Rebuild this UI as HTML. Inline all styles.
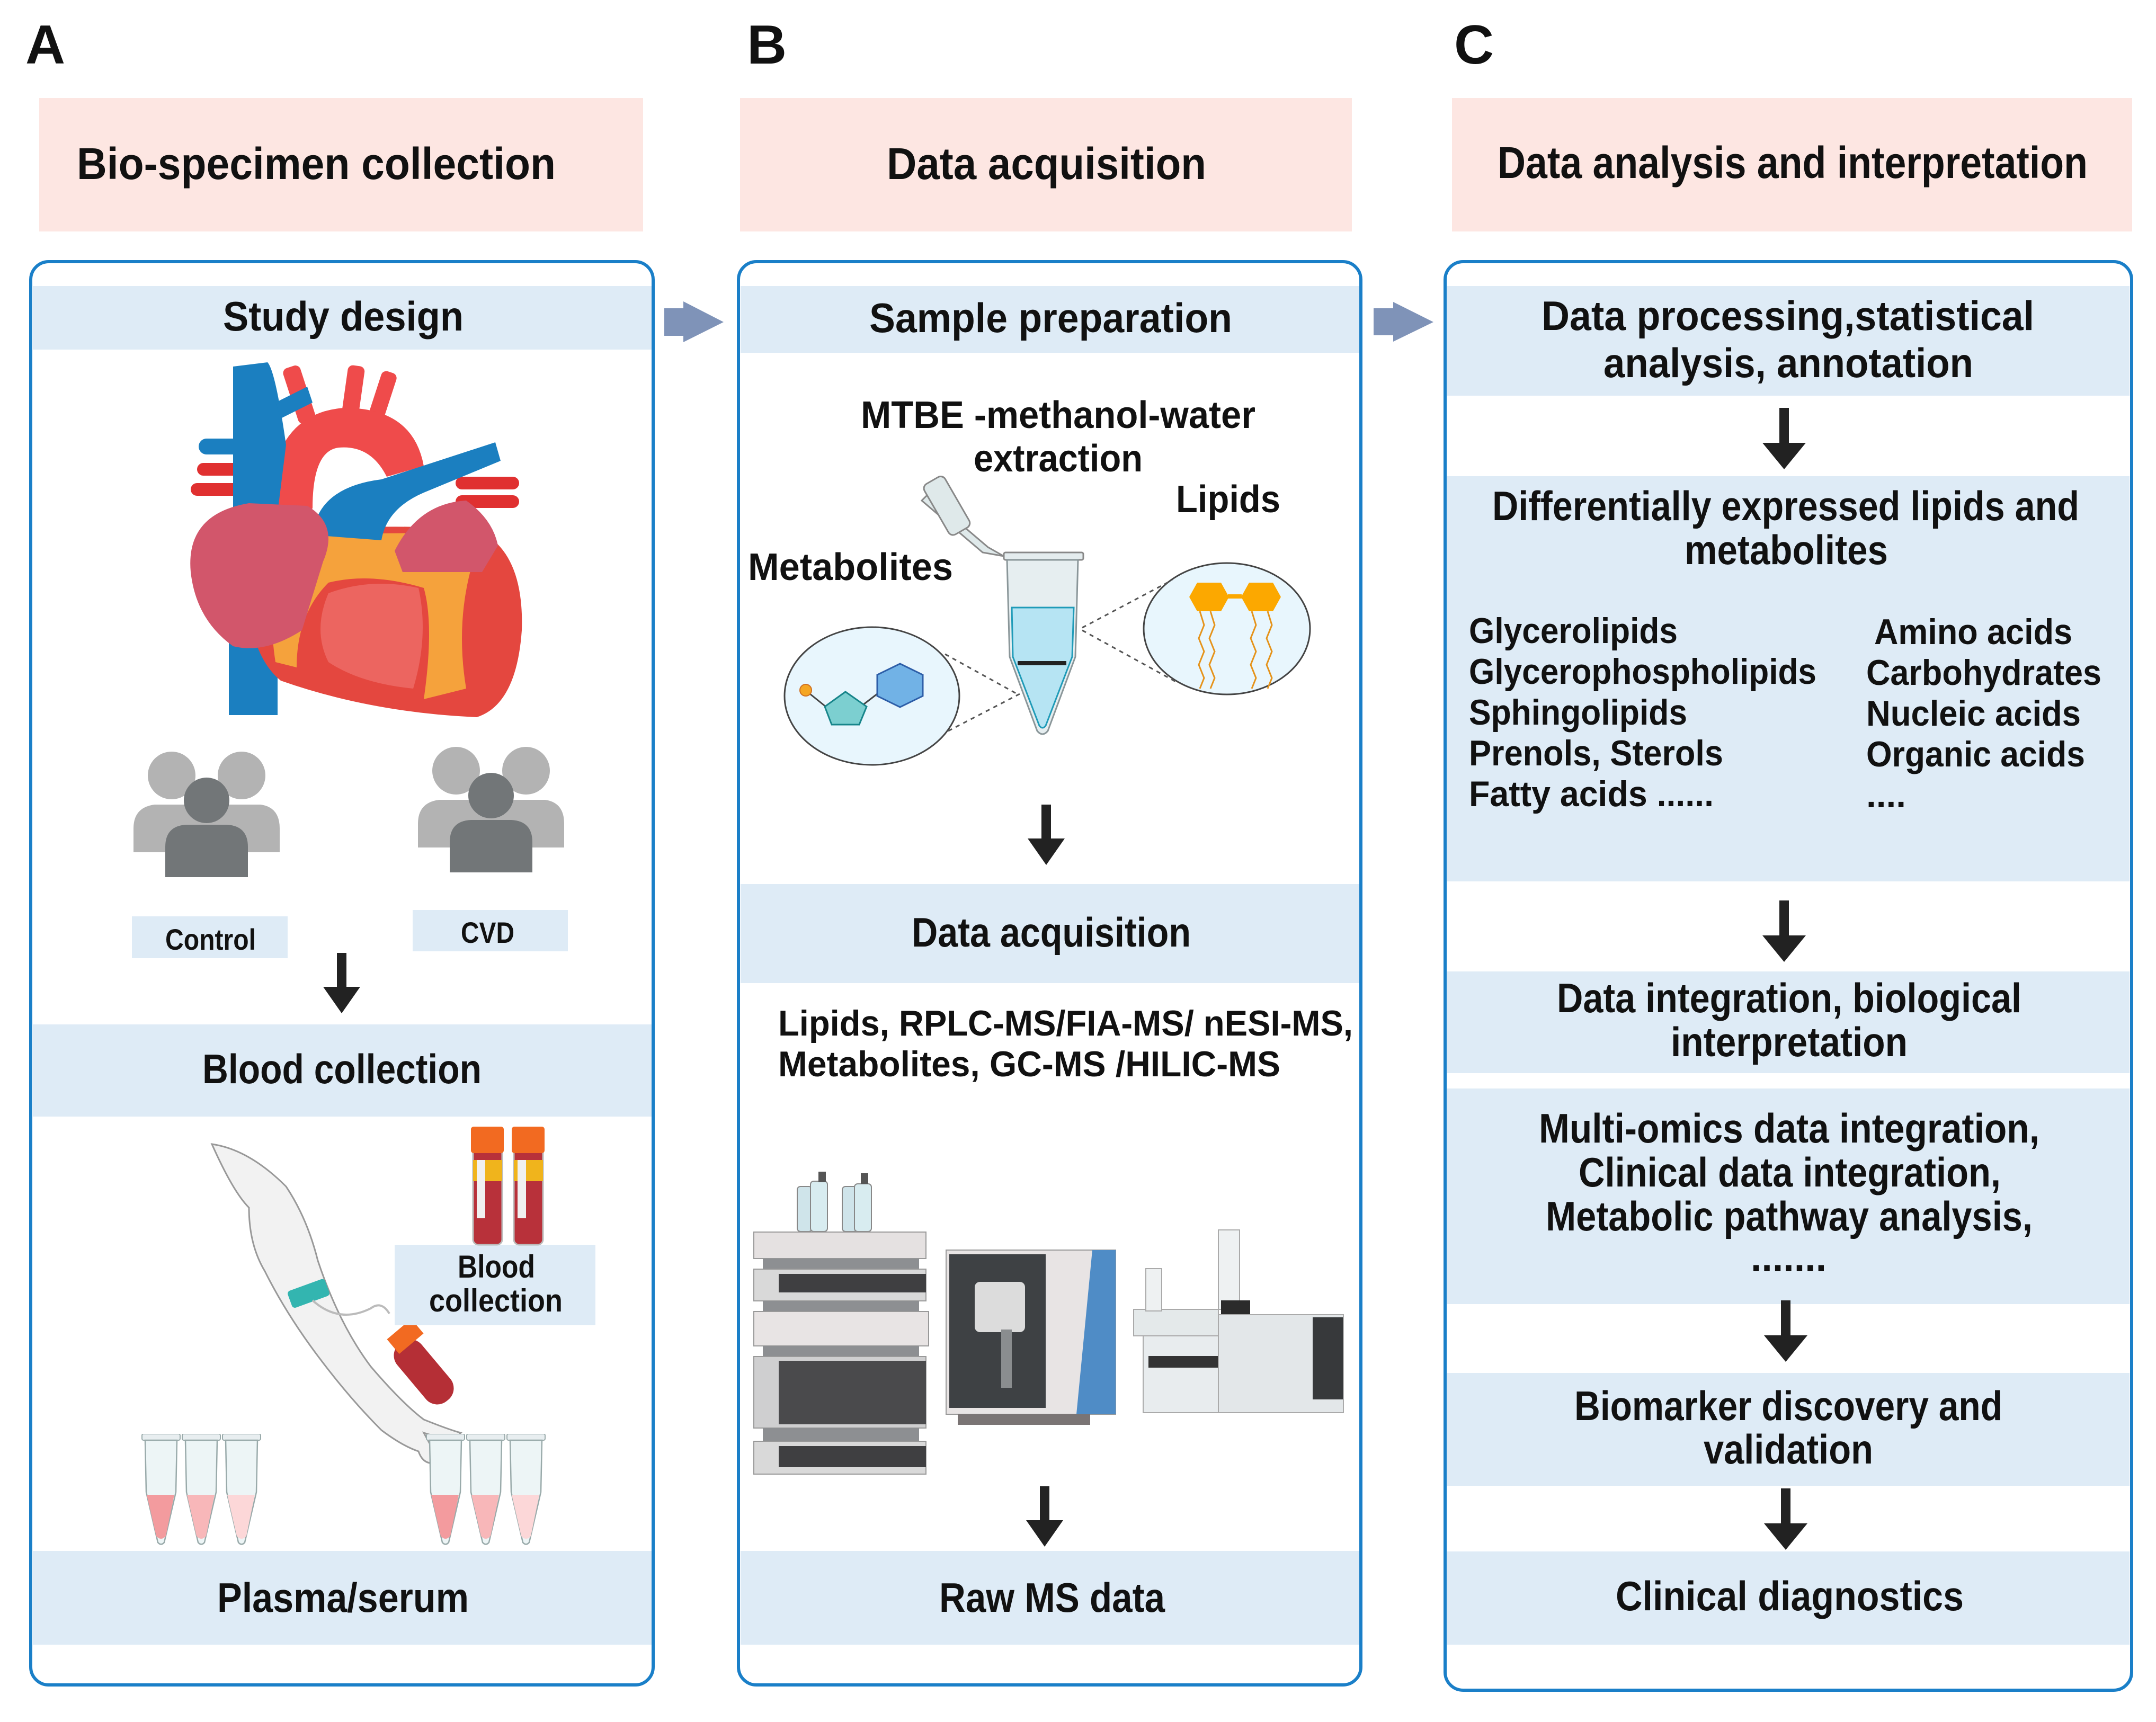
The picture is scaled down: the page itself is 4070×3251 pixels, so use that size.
<!DOCTYPE html>
<html><head><meta charset="utf-8">
<style>
html,body{margin:0;padding:0;background:#fff;}
svg{display:block;}
text{font-family:"Liberation Sans",sans-serif;font-weight:bold;fill:#111;}
</style></head><body>
<svg width="4070" height="3251" viewBox="0 0 4070 3251" xmlns="http://www.w3.org/2000/svg">
<defs>
<symbol id="epp" viewBox="0 0 76 212" width="76" height="212">
 <rect x="2" y="0" width="72" height="12" rx="3" fill="#e8eef0" stroke="#9aa" stroke-width="2"/>
 <path d="M8 12 L68 12 L66 110 L44 205 Q38 212 32 205 L10 110 Z" fill="#edf5f6" stroke="#9aa" stroke-width="2.5"/>
</symbol>
<symbol id="people" viewBox="0 0 276 237" width="276" height="237">
 <circle cx="72" cy="45" r="45" fill="#b3b3b3"/>
 <circle cx="204" cy="45" r="45" fill="#b3b3b3"/>
 <path d="M0 190 L0 145 Q0 105 40 100 L110 100 Q140 105 140 145 L140 190 Z" fill="#b3b3b3"/>
 <path d="M136 190 L136 145 Q136 105 176 100 L240 100 Q276 105 276 145 L276 190 Z" fill="#b3b3b3"/>
 <circle cx="138" cy="92" r="43" fill="#727678"/>
 <path d="M60 237 L60 180 Q60 140 100 138 L176 138 Q216 140 216 180 L216 237 Z" fill="#727678"/>
</symbol>
</defs>

<text x="48" y="120" font-size="104">A</text>
<text x="1410" y="120" font-size="104">B</text>
<text x="2745" y="120" font-size="104">C</text>

<rect x="74" y="185" width="1140" height="252" fill="#fde6e2"/>
<rect x="1397" y="185" width="1155" height="252" fill="#fde6e2"/>
<rect x="2741" y="185" width="1284" height="252" fill="#fde6e2"/>
<text x="145" y="338" font-size="84" textLength="904" lengthAdjust="spacingAndGlyphs">Bio-specimen collection</text>
<text x="1674" y="338" font-size="84" textLength="603" lengthAdjust="spacingAndGlyphs">Data acquisition</text>
<text x="2827" y="336" font-size="84" textLength="1114" lengthAdjust="spacingAndGlyphs">Data analysis and interpretation</text>

<rect x="58" y="494" width="1175" height="2687" rx="34" fill="#fff" stroke="#1a7fc8" stroke-width="6"/>
<rect x="1394" y="494" width="1175" height="2687" rx="34" fill="#fff" stroke="#1a7fc8" stroke-width="6"/>
<rect x="2728" y="494" width="1296" height="2697" rx="34" fill="#fff" stroke="#1a7fc8" stroke-width="6"/>

<polygon points="1254,582 1290,582 1290,569 1366,608 1290,646 1290,634 1254,634" fill="#7f93b8"/>
<polygon points="2593,582 2630,582 2630,570 2706,608 2630,645 2630,633 2593,633" fill="#7f93b8"/>

<g fill="#deebf6">
<rect x="62" y="540" width="1168" height="120"/>
<rect x="62" y="1934" width="1168" height="174"/>
<rect x="62" y="2928" width="1168" height="177"/>
<rect x="1398" y="540" width="1168" height="126"/>
<rect x="1398" y="1669" width="1168" height="187"/>
<rect x="1398" y="2928" width="1168" height="177"/>
<rect x="2732" y="540" width="1288" height="207"/>
<rect x="2732" y="899" width="1288" height="765"/>
<rect x="2732" y="1834" width="1288" height="192"/>
<rect x="2732" y="2055" width="1288" height="407"/>
<rect x="2732" y="2592" width="1288" height="213"/>
<rect x="2732" y="2929" width="1288" height="176"/>
<rect x="249" y="1730" width="294" height="79"/>
<rect x="779" y="1718" width="293" height="78"/>
</g>

<text x="421" y="624" font-size="78" textLength="454" lengthAdjust="spacingAndGlyphs">Study design</text>
<text x="382" y="2045" font-size="78" textLength="527" lengthAdjust="spacingAndGlyphs">Blood collection</text>
<text x="410" y="3043" font-size="78" textLength="475" lengthAdjust="spacingAndGlyphs">Plasma/serum</text>
<text x="312" y="1793" font-size="56" textLength="171" lengthAdjust="spacingAndGlyphs">Control</text>
<text x="870" y="1780" font-size="56" textLength="101" lengthAdjust="spacingAndGlyphs">CVD</text>

<text x="1641" y="627" font-size="78" textLength="685" lengthAdjust="spacingAndGlyphs">Sample preparation</text>
<text x="1625" y="808" font-size="72" textLength="745" lengthAdjust="spacingAndGlyphs">MTBE -methanol-water</text>
<text x="1838" y="890" font-size="72" textLength="319" lengthAdjust="spacingAndGlyphs">extraction</text>
<text x="2220" y="967" font-size="72" textLength="197" lengthAdjust="spacingAndGlyphs">Lipids</text>
<text x="1412" y="1095" font-size="72" textLength="387" lengthAdjust="spacingAndGlyphs">Metabolites</text>
<text x="1721" y="1787" font-size="78" textLength="527" lengthAdjust="spacingAndGlyphs">Data acquisition</text>
<text x="1469" y="1955" font-size="68" textLength="1085" lengthAdjust="spacingAndGlyphs">Lipids, RPLC-MS/FIA-MS/ nESI-MS,</text>
<text x="1469" y="2032" font-size="68" textLength="948" lengthAdjust="spacingAndGlyphs">Metabolites, GC-MS /HILIC-MS</text>
<text x="1773" y="3043" font-size="78" textLength="426" lengthAdjust="spacingAndGlyphs">Raw MS data</text>

<g font-size="78">
<text x="2910" y="623" textLength="930" lengthAdjust="spacingAndGlyphs">Data processing,statistical</text>
<text x="3027" y="712" textLength="698" lengthAdjust="spacingAndGlyphs">analysis, annotation</text>
<text x="2817" y="982" textLength="1108" lengthAdjust="spacingAndGlyphs">Differentially expressed lipids and</text>
<text x="3180" y="1065" textLength="384" lengthAdjust="spacingAndGlyphs">metabolites</text>
<text x="2939" y="1911" textLength="877" lengthAdjust="spacingAndGlyphs">Data integration, biological</text>
<text x="3154" y="1994" textLength="447" lengthAdjust="spacingAndGlyphs">interpretation</text>
<text x="2905" y="2157" textLength="945" lengthAdjust="spacingAndGlyphs">Multi-omics data integration,</text>
<text x="2980" y="2240" textLength="797" lengthAdjust="spacingAndGlyphs">Clinical data integration,</text>
<text x="2918" y="2323" textLength="919" lengthAdjust="spacingAndGlyphs">Metabolic pathway analysis,</text>
<text x="3305" y="2400" textLength="143" lengthAdjust="spacingAndGlyphs">.......</text>
<text x="2972" y="2681" textLength="808" lengthAdjust="spacingAndGlyphs">Biomarker discovery and</text>
<text x="3216" y="2763" textLength="320" lengthAdjust="spacingAndGlyphs">validation</text>
<text x="3050" y="3040" textLength="657" lengthAdjust="spacingAndGlyphs">Clinical  diagnostics</text>
</g>
<g font-size="68">
<text x="2773" y="1214" textLength="394" lengthAdjust="spacingAndGlyphs">Glycerolipids</text>
<text x="2773" y="1291" textLength="656" lengthAdjust="spacingAndGlyphs">Glycerophospholipids</text>
<text x="2773" y="1368" textLength="412" lengthAdjust="spacingAndGlyphs">Sphingolipids</text>
<text x="2773" y="1445" textLength="480" lengthAdjust="spacingAndGlyphs">Prenols, Sterols</text>
<text x="2773" y="1522" textLength="462" lengthAdjust="spacingAndGlyphs">Fatty acids ......</text>
<text x="3538" y="1216" textLength="374" lengthAdjust="spacingAndGlyphs">Amino acids</text>
<text x="3523" y="1293" textLength="444" lengthAdjust="spacingAndGlyphs">Carbohydrates</text>
<text x="3523" y="1370" textLength="405" lengthAdjust="spacingAndGlyphs">Nucleic acids</text>
<text x="3523" y="1447" textLength="413" lengthAdjust="spacingAndGlyphs">Organic acids</text>
<text x="3523" y="1524" textLength="75" lengthAdjust="spacingAndGlyphs">....</text>
</g>

<g fill="#222">
<path d="M636 1799 h18 v64 h26 l-35 50 l-35 -50 h26z"/>
<path d="M1966 1519 h18 v64 h26 l-35 50 l-35 -50 h26z"/>
<path d="M1963 2806 h18 v64 h26 l-35 50 l-35 -50 h26z"/>
<path d="M3359 770 h18 v66 h32 l-41 50 l-41 -50 h32z"/>
<path d="M3359 1700 h18 v66 h32 l-41 50 l-41 -50 h32z"/>
<path d="M3362 2455 h18 v66 h32 l-41 50 l-41 -50 h32z"/>
<path d="M3362 2810 h18 v66 h32 l-41 50 l-41 -50 h32z"/>
</g>

<!-- heart -->
<g>
<rect x="372" y="874" width="100" height="24" rx="12" fill="#e03030"/>
<rect x="360" y="912" width="110" height="24" rx="12" fill="#e03030"/>
<rect x="375" y="828" width="90" height="30" rx="15" fill="#1b7fc0"/>
<rect x="860" y="900" width="120" height="24" rx="12" fill="#e03030"/>
<rect x="860" y="935" width="120" height="24" rx="12" fill="#e03030"/>
<rect x="548" y="690" width="34" height="110" rx="10" fill="#ef4b4b" transform="rotate(-18 565 745)"/>
<rect x="650" y="690" width="32" height="110" rx="10" fill="#ef4b4b" transform="rotate(8 666 745)"/>
<rect x="705" y="700" width="30" height="110" rx="10" fill="#ef4b4b" transform="rotate(18 720 755)"/>
<path d="M505 1000 Q500 780 650 770 Q780 770 800 880 L730 900 Q700 840 640 845 Q590 850 590 960 Z" fill="#ef4b4b"/>
<path d="M440 692 L505 684 Q520 700 540 840 L520 1000 L440 1000 Z" fill="#1b7fc0"/>
<path d="M520 760 L580 730 L590 760 L530 790 Z" fill="#1b7fc0"/>
<rect x="432" y="1200" width="92" height="150" fill="#1b7fc0"/>
<path d="M470 1010 Q700 985 900 1000 Q990 1040 985 1190 Q975 1330 900 1354 Q700 1345 530 1285 Q450 1220 470 1010 Z" fill="#e4473f"/>
<path d="M540 1020 Q700 1000 890 1010 L890 1070 Q860 1180 880 1300 L800 1320 Q820 1180 800 1110 Q700 1080 620 1100 Q560 1160 560 1260 L520 1250 Q500 1120 540 1020Z" fill="#f5a23c"/>
<path d="M620 1120 Q700 1090 790 1110 Q810 1200 780 1300 Q680 1290 620 1250 Q590 1190 620 1120Z" fill="#ec6560"/>
<path d="M590 1010 Q600 920 720 905 L935 835 L945 870 L800 930 Q730 960 720 1020 Z" fill="#1b7fc0"/>
<path d="M360 1080 Q350 970 470 950 L580 955 Q640 990 610 1060 L570 1190 Q500 1235 440 1220 Q370 1170 360 1080Z" fill="#d2566b"/>
<path d="M745 1040 Q790 950 880 945 Q930 980 940 1030 L910 1080 L760 1080Z" fill="#d2566b"/>
</g>

<use href="#people" x="252" y="1419"/>
<use href="#people" x="789" y="1410"/>

<!-- arm -->
<path d="M400 2160 Q470 2170 540 2240 Q580 2300 600 2380 Q640 2500 700 2580 Q760 2650 800 2680 Q850 2700 870 2705 L860 2715 Q830 2715 800 2705 L830 2760 Q800 2770 790 2740 Q760 2730 720 2700 Q660 2640 600 2560 Q540 2480 500 2400 Q470 2350 470 2280 Q440 2250 400 2160Z" fill="#f2f2f2" stroke="#999" stroke-width="3"/>
<rect x="545" y="2425" width="75" height="34" rx="6" fill="#33b5b0" transform="rotate(-20 582 2442)"/>
<path d="M590 2455 Q640 2500 700 2470 Q720 2455 735 2480" fill="none" stroke="#bbb" stroke-width="4"/>
<rect x="770" y="2520" width="60" height="140" rx="28" fill="#b52f36" transform="rotate(-40 800 2590)"/>
<rect x="735" y="2505" width="60" height="36" fill="#f26a21" transform="rotate(-40 765 2523)"/>

<rect x="745" y="2350" width="379" height="152" fill="#deebf6"/>
<text x="864" y="2412" font-size="60" textLength="146" lengthAdjust="spacingAndGlyphs">Blood</text>
<text x="810" y="2476" font-size="60" textLength="252" lengthAdjust="spacingAndGlyphs">collection</text>

<g>
<rect x="893" y="2135" width="55" height="215" rx="10" fill="#b8313a" stroke="#bbb" stroke-width="3"/>
<rect x="893" y="2190" width="55" height="40" fill="#f0b41c"/>
<rect x="900" y="2190" width="16" height="110" fill="#f0f0f0"/>
<rect x="889" y="2127" width="62" height="50" rx="5" fill="#f26a21"/>
<rect x="970" y="2135" width="55" height="215" rx="10" fill="#b8313a" stroke="#bbb" stroke-width="3"/>
<rect x="970" y="2190" width="55" height="40" fill="#f0b41c"/>
<rect x="977" y="2190" width="16" height="110" fill="#f0f0f0"/>
<rect x="966" y="2127" width="62" height="50" rx="5" fill="#f26a21"/>
</g>

<g>
<use href="#epp" x="266" y="2707"/><use href="#epp" x="342" y="2707"/><use href="#epp" x="418" y="2707"/>
<use href="#epp" x="803" y="2707"/><use href="#epp" x="879" y="2707"/><use href="#epp" x="955" y="2707"/>
<path d="M277 2822 L329 2822 L313 2900 Q304 2910 295 2900Z" fill="#f39b9e"/>
<path d="M353 2822 L405 2822 L389 2900 Q380 2910 371 2900Z" fill="#f8b7b9"/>
<path d="M429 2822 L481 2822 L465 2900 Q456 2910 447 2900Z" fill="#fcd7d8"/>
<path d="M814 2822 L866 2822 L850 2900 Q841 2910 832 2900Z" fill="#f39b9e"/>
<path d="M890 2822 L942 2822 L926 2900 Q917 2910 908 2900Z" fill="#f8b7b9"/>
<path d="M966 2822 L1018 2822 L1002 2900 Q993 2910 984 2900Z" fill="#fcd7d8"/>
</g>

<!-- sample prep -->
<ellipse cx="1646" cy="1314" rx="165" ry="130" fill="#e8f6fd" stroke="#444" stroke-width="3"/>
<ellipse cx="2316" cy="1187" rx="157" ry="124" fill="#e8f6fd" stroke="#444" stroke-width="3"/>
<g stroke="#555" stroke-width="3" stroke-dasharray="8 8" fill="none">
<line x1="1784" y1="1235" x2="1920" y2="1310"/><line x1="1790" y1="1380" x2="1925" y2="1310"/>
<line x1="2043" y1="1185" x2="2213" y2="1095"/><line x1="2043" y1="1190" x2="2225" y2="1290"/>
</g>
<line x1="1524" y1="1306" x2="1560" y2="1335" stroke="#444" stroke-width="3"/>
<line x1="1630" y1="1330" x2="1656" y2="1310" stroke="#444" stroke-width="3"/>
<polygon points="1596,1306 1636,1334 1622,1368 1570,1368 1557,1334" fill="#7ccfd0" stroke="#17858a" stroke-width="3"/>
<polygon points="1699,1253 1742,1274 1742,1314 1699,1335 1656,1314 1656,1274" fill="#71b2e6" stroke="#2d5ea8" stroke-width="3"/>
<circle cx="1521" cy="1303" r="11" fill="#f5a623" stroke="#d07020" stroke-width="2"/>
<polygon points="2260,1100 2305,1100 2320,1127 2305,1154 2260,1154 2245,1127" fill="#fca800"/>
<polygon points="2358,1100 2403,1100 2418,1127 2403,1154 2358,1154 2343,1127" fill="#fca800"/>
<rect x="2318" y="1122" width="26" height="8" fill="#fca800"/>
<g stroke="#e5931a" stroke-width="3" fill="none">
<polyline points="2265,1154 2273,1180 2263,1205 2273,1230 2263,1255 2273,1280 2265,1300"/>
<polyline points="2285,1154 2293,1180 2283,1205 2293,1230 2283,1255 2293,1280 2285,1300"/>
<polyline points="2363,1154 2371,1180 2361,1205 2371,1230 2361,1255 2371,1280 2363,1300"/>
<polyline points="2393,1154 2401,1180 2391,1205 2401,1230 2391,1255 2401,1280 2393,1300"/>
</g>
<path d="M1895 1050 L1855 1043 L1740 945 L1750 935 L1865 1033 Z" fill="#dfe9ea" stroke="#888" stroke-width="3"/>
<rect x="1765" y="900" width="45" height="110" rx="10" fill="#dfe9ea" stroke="#888" stroke-width="3" transform="rotate(-30 1787 955)"/>
<rect x="1895" y="1043" width="150" height="14" rx="3" fill="#e4ecee" stroke="#888" stroke-width="3"/>
<path d="M1901 1057 L2035 1057 L2030 1240 L1978 1380 Q1968 1392 1958 1380 L1906 1240 Z" fill="#e6eef0" stroke="#8a9699" stroke-width="3"/>
<path d="M1910 1147 L2027 1147 L2024 1240 L1974 1370 Q1968 1378 1962 1370 L1912 1240 Z" fill="#b6e4f3" stroke="#1f9bb8" stroke-width="3"/>
<rect x="1921" y="1248" width="92" height="8" fill="#222"/>

<!-- instruments -->
<g>
<rect x="1505" y="2240" width="28" height="85" rx="6" fill="#cfe4ea" stroke="#888" stroke-width="2"/>
<rect x="1530" y="2230" width="32" height="95" rx="6" fill="#d8ecf0" stroke="#888" stroke-width="2"/>
<rect x="1590" y="2240" width="28" height="85" rx="6" fill="#cfe4ea" stroke="#888" stroke-width="2"/>
<rect x="1613" y="2235" width="32" height="90" rx="6" fill="#d8ecf0" stroke="#888" stroke-width="2"/>
<rect x="1545" y="2212" width="14" height="20" fill="#555"/><rect x="1625" y="2215" width="14" height="20" fill="#555"/>
<rect x="1423" y="2326" width="325" height="50" fill="#e5e1e1" stroke="#999" stroke-width="2"/>
<rect x="1440" y="2376" width="295" height="20" fill="#8d8f92"/>
<rect x="1423" y="2396" width="325" height="60" fill="#d9d9d9" stroke="#999" stroke-width="2"/>
<rect x="1470" y="2405" width="278" height="35" fill="#3f3f41"/>
<rect x="1440" y="2456" width="295" height="20" fill="#8d8f92"/>
<rect x="1423" y="2476" width="330" height="65" fill="#e8e4e4" stroke="#999" stroke-width="2"/>
<rect x="1440" y="2541" width="295" height="20" fill="#8d8f92"/>
<rect x="1423" y="2561" width="325" height="135" fill="#cfcfd0" stroke="#999" stroke-width="2"/>
<rect x="1470" y="2569" width="278" height="120" fill="#4a4a4c"/>
<rect x="1440" y="2696" width="295" height="25" fill="#8d8f92"/>
<rect x="1423" y="2721" width="325" height="62" fill="#d9d9d9" stroke="#999" stroke-width="2"/>
<rect x="1470" y="2730" width="278" height="40" fill="#3f3f41"/>
<rect x="1786" y="2360" width="320" height="310" fill="#e8e4e4" stroke="#999" stroke-width="2"/>
<rect x="1792" y="2368" width="182" height="290" fill="#3e4144"/>
<path d="M2062 2360 L2106 2360 L2106 2670 L2032 2670 Z" fill="#4f8cc6"/>
<rect x="1840" y="2420" width="95" height="95" rx="10" fill="#dcdcdc"/>
<rect x="1890" y="2510" width="20" height="110" fill="#8a8d8f"/>
<rect x="1808" y="2670" width="250" height="20" fill="#7a7474"/>
<rect x="2140" y="2472" width="160" height="50" fill="#e4e9ea" stroke="#aaa" stroke-width="2"/>
<rect x="2163" y="2395" width="30" height="80" fill="#eef1f2" stroke="#aaa" stroke-width="2"/>
<rect x="2300" y="2322" width="40" height="150" fill="#eef1f2" stroke="#aaa" stroke-width="2"/>
<rect x="2305" y="2455" width="55" height="30" fill="#2b2b2b"/>
<rect x="2158" y="2522" width="150" height="145" fill="#e8ecee" stroke="#aaa" stroke-width="2"/>
<rect x="2168" y="2560" width="135" height="22" fill="#333"/>
<rect x="2300" y="2482" width="236" height="185" fill="#e3e7e9" stroke="#aaa" stroke-width="2"/>
<rect x="2478" y="2487" width="57" height="155" fill="#37393b"/>
</g>
</svg>
</body></html>
